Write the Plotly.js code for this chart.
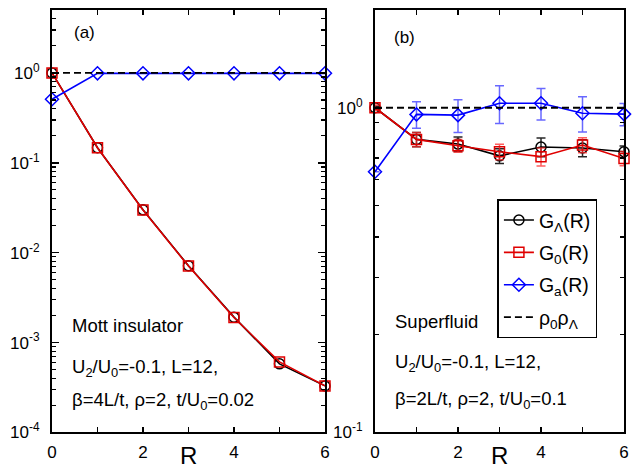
<!DOCTYPE html>
<html>
<head>
<meta charset="utf-8">
<script src="https://cdn.plot.ly/plotly-3.0.1.min.js"></script>
<style>html,body{margin:0;padding:0;background:#fff}#chart{width:641px;height:472px}</style>
</head>
<body>
<div id="chart"></div>
<script>
// ---- data ----
const R = [0, 1, 2, 3, 4, 5, 6];
// panel (a): Mott insulator
const aGLambda = [1.0, 0.147, 0.0300, 0.00715, 0.00192, 0.00058, 0.00033];
const aG0      = [1.0, 0.147, 0.0298, 0.00710, 0.00190, 0.00061, 0.00033];
const aGa      = [0.51, 0.99, 0.99, 0.99, 0.99, 0.99, 0.99];
const aRho     = [1, 1, 1, 1, 1, 1, 1];
// panel (b): Superfluid
const bGLambda    = [1.0, 0.799, 0.773, 0.711, 0.757, 0.752, 0.732];
const bGLambdaErr = [0.01, 0.040, 0.040, 0.037, 0.050, 0.045, 0.030];
const bG0         = [1.0, 0.799, 0.764, 0.732, 0.707, 0.768, 0.698];
const bG0Err      = [0.02, 0.040, 0.035, 0.040, 0.045, 0.041, 0.035];
const bGa         = [0.635, 0.954, 0.949, 1.032, 1.032, 0.962, 0.956];
const bGaErr      = [0, 0.090, 0.110, 0.137, 0.115, 0.120, 0.075];
const bRho        = [1, 1, 1, 1, 1, 1, 1];
// tick labels
const xTickVals = [0, 2, 4, 6];
const xTickText = ['0', '2', '4', '6'];
const xMinorVals = [1, 3, 5];
const aYTickVals = [1e-4, 1e-3, 1e-2, 1e-1, 1];
const aYTickText = ['10<sup>-4</sup>', '10<sup>-3</sup>', '10<sup>-2</sup>', '10<sup>-1</sup>', '10<sup>0</sup>'];
const bYTickVals = [0.1, 1];
const bYTickText = ['10<sup>-1</sup>', '10<sup>0</sup>'];
const names = ['G<sub>Λ</sub>(R)', 'G<sub>0</sub>(R)', 'G<sub>a</sub>(R)', 'ρ<sub>0</sub>ρ<sub>Λ</sub>'];

function minorVals(lo, hi) {
  const v = [];
  for (let e = lo; e <= hi; e++) for (let m = 2; m <= 9; m++) v.push(m * Math.pow(10, e));
  return v;
}

const FONT = 'Liberation Sans, Arial, Helvetica, sans-serif';
const blackC = '#000000', redC = '#e00000', blueC = '#0000ff';

function series(xa, ya, y, err, color, sym, name, show, errColor) {
  const t = {
    x: R, y: y, xaxis: xa, yaxis: ya, type: 'scatter', mode: 'lines+markers',
    name: name, showlegend: show, legendgroup: name, cliponaxis: false,
    line: {color: color, width: 1.6},
    marker: {symbol: sym, size: 10, color: color, line: {color: color, width: 1.5}}
  };
  if (err) t.error_y = {type: 'data', array: err, visible: true, color: errColor, thickness: 1.5, width: 4.5};
  return t;
}
function dashed(xa, ya, y, show) {
  return {x: R, y: y, xaxis: xa, yaxis: ya, type: 'scatter', mode: 'lines', name: names[3], legendgroup: 'rho',
    showlegend: show, cliponaxis: false, line: {color: blackC, width: 1.8, dash: '7px,4px'}};
}

const data = [
  series('x', 'y', aGLambda, null, blackC, 'circle-open', names[0], false),
  series('x', 'y', aG0, null, redC, 'square-open', names[1], false),
  series('x', 'y', aGa, null, blueC, 'diamond-open', names[2], false),
  dashed('x', 'y', aRho, false),
  series('x2', 'y2', bGLambda, bGLambdaErr, blackC, 'circle-open', names[0], true, 'rgba(0,0,0,0.85)'),
  series('x2', 'y2', bG0, bG0Err, redC, 'square-open', names[1], true, 'rgba(255,40,40,0.75)'),
  series('x2', 'y2', bGa, bGaErr, blueC, 'diamond-open', names[2], true, 'rgba(40,40,255,0.7)'),
  dashed('x2', 'y2', bRho, true)
];

function xAxis(dom, anchor) {
  return {domain: dom, anchor: anchor, range: [0, 6], tickmode: 'array', tickvals: xTickVals, ticktext: xTickText,
    ticks: 'inside', ticklen: 5, tickwidth: 1.5, tickcolor: '#000', showline: true, linecolor: '#000', linewidth: 2,
    mirror: 'ticks', showgrid: false, zeroline: false, ticklabelstandoff: 3,
    tickfont: {family: FONT, size: 17, color: '#000'},
    minor: {tickmode: 'array', tickvals: xMinorVals, ticks: 'inside', ticklen: 5, tickwidth: 1.5, tickcolor: '#000', showgrid: false}};
}
function yAxis(range, tv, tt, mlo, mhi, anchor) {
  return {domain: [0.0837, 0.9788], anchor: anchor, type: 'log', range: range, tickmode: 'array', tickvals: tv, ticktext: tt,
    ticks: 'inside', ticklen: 7, tickwidth: 1.5, tickcolor: '#000', showline: true, linecolor: '#000', linewidth: 2,
    mirror: 'ticks', showgrid: false, zeroline: false, ticklabelstandoff: 7,
    tickfont: {family: FONT, size: 17, color: '#000'},
    minor: {tickmode: 'array', tickvals: minorVals(mlo, mhi), ticks: 'inside', ticklen: 4, tickwidth: 1.2, tickcolor: '#000', showgrid: false}};
}

function ann(x, y, text, size, anchorY) {
  return {xref: 'paper', yref: 'paper', x: x, y: y, text: text, showarrow: false, xanchor: 'left', yanchor: anchorY || 'middle',
    font: {family: FONT, size: size, color: '#000'}};
}
function rTitle(x) {
  return {xref: 'paper', yref: 'paper', x: x, y: 0.068, text: 'R', showarrow: false, xanchor: 'center', yanchor: 'top',
    font: {family: FONT, size: 24, color: '#000'}};
}

const layout = {
  width: 641, height: 472, margin: {l: 0, r: 0, t: 0, b: 0},
  paper_bgcolor: '#fff', plot_bgcolor: '#fff',
  font: {family: FONT, color: '#000'},
  xaxis: xAxis([0.0811, 0.5070], 'y'),
  yaxis: yAxis([-4, 0.7], aYTickVals, aYTickText, -4, 0, 'x'),
  xaxis2: xAxis([0.5850, 0.9735], 'y2'),
  yaxis2: yAxis([-1, 0.301], bYTickVals, bYTickText, -1, 0, 'x2'),
  showlegend: true,
  legend: {x: 0.776, y: 0.5777, xanchor: 'left', yanchor: 'top', bgcolor: '#fff', bordercolor: '#000', borderwidth: 1.5,
    font: {family: FONT, size: 19.5, color: '#000'}, itemwidth: 30, traceorder: 'grouped', tracegroupgap: 4},
  annotations: [
    ann(0.1123, 0.932, '(a)', 17),
    ann(0.1092, 0.3114, 'Mott insulator', 18.5),
    ann(0.1092, 0.2203, 'U<sub>2</sub>/U<sub>0</sub>=-0.1, L=12,', 18.5),
    ann(0.1092, 0.1504, 'β=4L/t, ρ=2, t/U<sub>0</sub>=0.02', 18.5),
    ann(0.6115, 0.9216, '(b)', 17),
    ann(0.6126, 0.3184, 'Superfluid', 18.5),
    ann(0.6126, 0.231, 'U<sub>2</sub>/U<sub>0</sub>=-0.1, L=12,', 18.5),
    ann(0.6126, 0.1531, 'β=2L/t, ρ=2, t/U<sub>0</sub>=0.1', 18.5),
    rTitle(0.294), rTitle(0.779)
  ]
};

Plotly.newPlot('chart', data, layout, {staticPlot: true, displayModeBar: false});
</script>
</body>
</html>
